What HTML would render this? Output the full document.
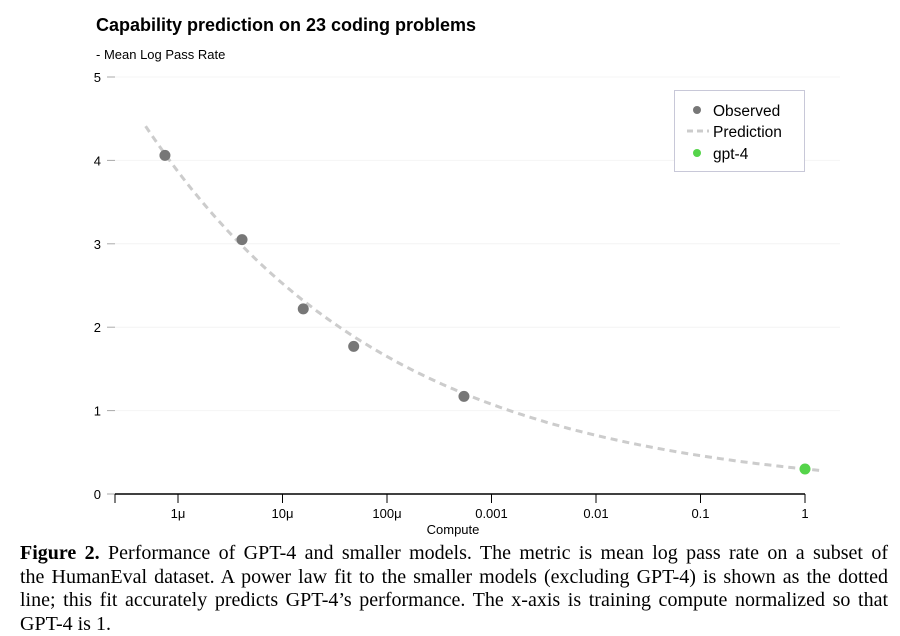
<!DOCTYPE html>
<html><head><meta charset="utf-8"><style>
body{margin:0;background:#fff;width:900px;height:636px;overflow:hidden;font-family:"Liberation Sans",sans-serif}
#cap{position:absolute;left:20px;top:542px;width:868px;font-family:"Liberation Serif",serif;font-size:20px;line-height:23.5px;color:#000}
#cap div{text-align:justify;text-align-last:justify;white-space:nowrap}
#cap div.last{text-align-last:left}
</style></head><body>
<svg id="chart" width="900" height="540" style="position:absolute;left:0;top:0">
<text x="96" y="31" font-size="18" font-weight="bold">Capability prediction on 23 coding problems</text>
<text x="96" y="59" font-size="13">- Mean Log Pass Rate</text>
<g id="grid"></g><g id="axes"></g><g id="marks"></g>
<g>
<rect x="674.5" y="90.5" width="130" height="81" fill="#fff" stroke="#c8c8d8"/>
<circle cx="697" cy="110" r="4" fill="#777"/><text x="713" y="116" font-size="15.5">Observed</text>
<line x1="687" y1="131" x2="709" y2="131" stroke="#ccc" stroke-width="3" stroke-dasharray="6,4"/><text x="713" y="137" font-size="15.5">Prediction</text>
<circle cx="697" cy="153" r="4" fill="#55d44a"/><text x="713" y="159" font-size="15.5">gpt-4</text>
</g>
<text x="453" y="534" font-size="13" text-anchor="middle">Compute</text>
</svg>
<div id="cap">
<div><b>Figure 2.</b> Performance of GPT-4 and smaller models. The metric is mean log pass rate on a subset of</div>
<div>the HumanEval dataset. A power law fit to the smaller models (excluding GPT-4) is shown as the dotted</div>
<div>line; this fit accurately predicts GPT-4’s performance. The x-axis is training compute normalized so that</div>
<div class="last">GPT-4 is 1.</div>
</div>
<script>
const obsCompute=[7.5e-7,4.1e-6,1.58e-5,4.8e-5,5.45e-4];
const obsValues=[4.06,3.05,2.22,1.77,1.17];
const gptCompute=[1];
const gptValues=[0.3];
const fitA=0.3, fitB=0.185;
const xTickVals=[1e-6,1e-5,1e-4,1e-3,1e-2,1e-1,1];
const xTickLabels=["1μ","10μ","100μ","0.001","0.01","0.1","1"];
const yTickVals=[0,1,2,3,4,5];
const NS="http://www.w3.org/2000/svg";
const X=c=>178+104.5*(Math.log10(c)+6);
const Y=v=>494-83.4*v;
function mk(t,a,p){const e=document.createElementNS(NS,t);for(const k in a)e.setAttribute(k,a[k]);document.getElementById(p).appendChild(e);return e;}
yTickVals.forEach(v=>{
 if(v>0){const g=mk('line',{x1:115,x2:840,y1:Y(v),y2:Y(v),stroke:'#f4f4f4'},'grid');
 
 }
 const t=mk('line',{x1:107,x2:115,y1:Y(v),y2:Y(v),stroke:'#aaa'},'axes');
 
 
 const l=mk('text',{x:101,y:Y(v)+5,'font-size':13,'text-anchor':'end'},'axes');l.textContent=v;
 
 
});
const ax=mk('line',{x1:115,x2:805,y1:494,y2:494,stroke:'#000','stroke-width':1.5},'axes');


mk('line',{x1:115,x2:115,y1:494,y2:503,stroke:'#000'},'axes');
xTickVals.forEach((c,i)=>{
 const t=mk('line',{x1:X(c),x2:X(c),y1:494,y2:503,stroke:'#000'},'axes');
 
 
 const l=mk('text',{x:X(c),y:518,'font-size':13,'text-anchor':'middle'},'axes');l.textContent=xTickLabels[i];
 
 
});
let d='';for(let lc=-6.31;lc<=0.165;lc+=0.05){const v=fitA*Math.pow(10,-fitB*lc);d+=(d?'L':'M')+X(Math.pow(10,lc)).toFixed(1)+','+Y(v).toFixed(1);}
const p=mk('path',{d:d,fill:'none',stroke:'#ccc','stroke-width':3,'stroke-dasharray':'7,5'},'marks');


obsCompute.forEach((c,i)=>{const e=mk('circle',{cx:X(c),cy:Y(obsValues[i]),r:5.5,fill:'#777'},'marks');
 
 });
gptCompute.forEach((c,i)=>{const e=mk('circle',{cx:X(c),cy:Y(gptValues[i]),r:5.5,fill:'#55d44a'},'marks');
 
 });
</script>
</body></html>
